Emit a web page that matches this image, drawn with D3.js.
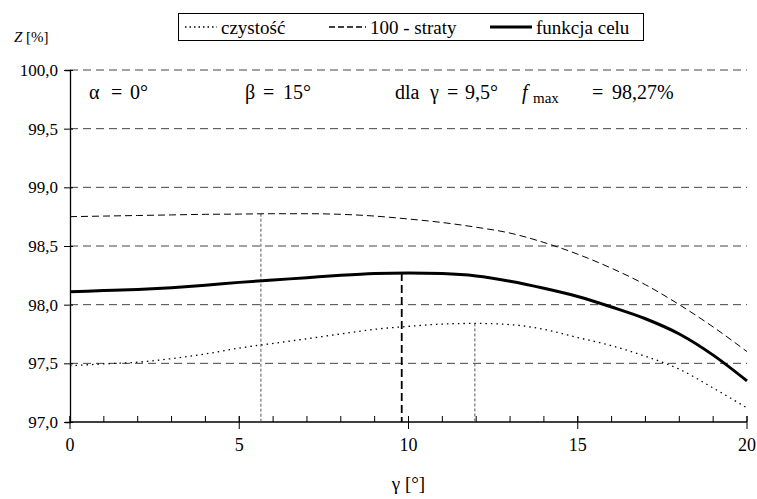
<!DOCTYPE html>
<html>
<head>
<meta charset="utf-8">
<script src="https://d3js.org/d3.v7.min.js"></script>
</head>
<body style="margin:0; background:#fff">
<script>
    // gamma values [deg]
    let gamma = [0, 1, 2, 3, 4, 5, 6, 7, 8, 9, 10, 11, 12, 13, 14, 15, 16, 17, 18, 19, 20];
    // 100 - straty
    let straty = [98.75, 98.755, 98.76, 98.765, 98.77, 98.772, 98.775, 98.775, 98.77, 98.755, 98.73, 98.70, 98.66, 98.61, 98.53, 98.43, 98.31, 98.17, 98.00, 97.81, 97.60];
    // funkcja celu
    let celu = [98.11, 98.12, 98.13, 98.145, 98.165, 98.19, 98.21, 98.23, 98.25, 98.265, 98.27, 98.265, 98.245, 98.2, 98.14, 98.07, 97.98, 97.88, 97.75, 97.57, 97.35];
    // czystość
    let czystosc = [97.48, 97.495, 97.51, 97.54, 97.58, 97.63, 97.67, 97.71, 97.75, 97.79, 97.815, 97.835, 97.84, 97.83, 97.79, 97.72, 97.65, 97.56, 97.45, 97.29, 97.12];

    let yTicks = [97.0, 97.5, 98.0, 98.5, 99.0, 99.5, 100.0];
    let xTicks = [0, 5, 10, 15, 20];
    // vertical guides at the maxima
    let maxLines = [
        {x: 5.64, y: 98.775, dash: "3,2", w: 1, color: "#555"},
        {x: 9.8, y: 98.27, dash: "8,4", w: 1.8, color: "#000"},
        {x: 11.96, y: 97.84, dash: "3,2", w: 1, color: "#555"}
    ];

    let FONT = '"Liberation Serif", "Times New Roman", serif';
    let width = 757;
    let height = 499;
    let margin = {left: 70, right: 10, top: 70, bottom: 77};

    let svg = d3.select("body").append("svg")
        .attr("width", width)
        .attr("height", height);

    let x = d3.scaleLinear().domain([0, 20]).range([margin.left, width - margin.right]);
    let y = d3.scaleLinear().domain([97, 100]).range([height - margin.bottom, margin.top]);

    let fmt = d => d.toFixed(1).replace(".", ",");

    // horizontal grid
    svg.selectAll(".grid")
        .data(yTicks.filter(d => d > 97))
        .join("line")
        .attr("class", "grid")
        .attr("x1", x(0))
        .attr("x2", x(20))
        .attr("y1", d => y(d))
        .attr("y2", d => y(d))
        .attr("stroke", "#444")
        .attr("stroke-width", 1)
        .attr("stroke-dasharray", "8,5");

    // y axis
    let yAxis = d3.axisLeft(y).tickValues(yTicks).tickFormat(fmt).tickSize(5);
    let gy = svg.append("g")
        .attr("transform", `translate(${x(0)},0)`)
        .call(yAxis);
    gy.select(".domain").attr("stroke", "#000").attr("stroke-width", 1.3);
    gy.selectAll(".tick line").attr("x2", -6).attr("x1", 3);
    gy.selectAll(".tick text").remove();
    svg.selectAll(".ylab")
        .data(yTicks)
        .join("text")
        .attr("class", "ylab")
        .attr("x", x(0) - 12)
        .attr("y", d => y(d))
        .attr("dy", "0.35em")
        .attr("text-anchor", "end")
        .style("font-family", FONT)
        .style("font-size", "17px")
        .text(fmt);

    // x axis: minor ticks every 1
    let gx = svg.append("g")
        .attr("transform", `translate(0,${y(97)})`);
    gx.append("line")
        .attr("x1", x(0)).attr("x2", x(20))
        .attr("stroke", "#000").attr("stroke-width", 1.3);
    gx.selectAll(".minor")
        .data(gamma)
        .join("line")
        .attr("x1", d => x(d)).attr("x2", d => x(d))
        .attr("y1", 0).attr("y2", -6)
        .attr("stroke", "#000");
    gx.selectAll(".major")
        .data(xTicks)
        .join("line")
        .attr("x1", d => x(d)).attr("x2", d => x(d))
        .attr("y1", 7).attr("y2", -6)
        .attr("stroke", "#000");
    gx.selectAll(".xlab")
        .data(xTicks)
        .join("text")
        .attr("x", d => x(d))
        .attr("y", 29)
        .attr("text-anchor", "middle")
        .style("font-family", FONT)
        .style("font-size", "18px")
        .text(d => d);

    // vertical guides
    svg.selectAll(".vmax")
        .data(maxLines)
        .join("line")
        .attr("x1", d => x(d.x)).attr("x2", d => x(d.x))
        .attr("y1", d => y(d.y)).attr("y2", y(97))
        .attr("stroke", d => d.color)
        .attr("stroke-width", d => d.w)
        .attr("stroke-dasharray", d => d.dash);

    let line = d3.line()
        .x((d, i) => x(gamma[i]))
        .y(d => y(d))
        .curve(d3.curveMonotoneX);

    svg.append("path").datum(straty)
        .attr("d", line).attr("fill", "none")
        .attr("stroke", "#000").attr("stroke-width", 1)
        .attr("stroke-dasharray", "7,4");

    svg.append("path").datum(czystosc)
        .attr("d", line).attr("fill", "none")
        .attr("stroke", "#000").attr("stroke-width", 1.3)
        .attr("stroke-dasharray", "1.5,4");

    svg.append("path").datum(celu)
        .attr("d", line).attr("fill", "none")
        .attr("stroke", "#000").attr("stroke-width", 3);

    // legend
    let lg = svg.append("g");
    lg.append("rect")
        .attr("x", 178.5).attr("y", 13.5)
        .attr("width", 465).attr("height", 27)
        .attr("fill", "#fff").attr("stroke", "#000").attr("stroke-width", 1);
    let legendItems = [
        {label: "czystość", x1: 185, x2: 217, dash: "1.5,3", w: 1.3},
        {label: "100 - straty", x1: 329, x2: 366, dash: "6,3", w: 1.3},
        {label: "funkcja celu", x1: 490, x2: 532, dash: null, w: 3}
    ];
    legendItems.forEach(d => {
        lg.append("line")
            .attr("x1", d.x1).attr("x2", d.x2)
            .attr("y1", 27).attr("y2", 27)
            .attr("stroke", "#000")
            .attr("stroke-width", d.w)
            .attr("stroke-dasharray", d.dash);
        lg.append("text")
            .attr("x", d.x2 + 4).attr("y", 34)
            .style("font-family", FONT)
            .style("font-size", "19px")
            .text(d.label);
    });

    // axis titles
    let zt = svg.append("text")
        .attr("x", 14).attr("y", 42)
        .style("font-family", FONT)
        .style("font-size", "15px");
    zt.append("tspan").style("font-style", "italic").text("Z");
    zt.append("tspan").text(" [%]");

    svg.append("text")
        .attr("x", x(10)).attr("y", 490)
        .attr("text-anchor", "middle")
        .style("font-family", FONT)
        .style("font-size", "19px")
        .text("γ [°]");

    // annotation row, pieces placed like the original spacing
    let ann = svg.append("text")
        .attr("y", 99)
        .style("font-family", FONT)
        .style("font-size", "20px");
    let piece = (px, s) => ann.append("tspan").attr("x", px).text(s);
    piece(89, "α");
    piece(111, "=");
    piece(130, "0°");
    piece(245, "β");
    piece(263, "=");
    piece(283, "15°");
    piece(395, "dla");
    piece(430, "γ");
    piece(447, "=");
    piece(465, "9,5°");
    piece(522, "f").style("font-style", "italic");
    piece(533, "max").attr("dy", 4).style("font-size", "15px");
    piece(592, "=").attr("dy", -4);
    piece(612, "98,27%");
</script>
</body>
</html>
